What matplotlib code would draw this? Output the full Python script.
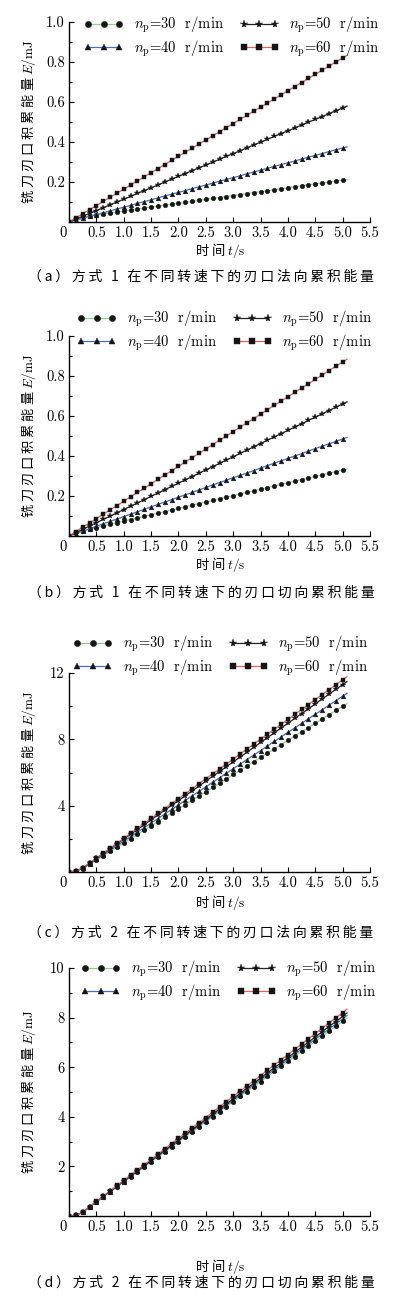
import numpy as np
import matplotlib
matplotlib.use("Agg")
import matplotlib.pyplot as plt
from matplotlib.ticker import MultipleLocator, FixedLocator, FixedFormatter
import matplotlib.transforms as mtransforms

plt.rcParams['mathtext.fontset'] = 'cm'
plt.rcParams['font.family'] = ['cmr10', 'DejaVu Sans']
plt.rcParams['axes.formatter.use_mathtext'] = True

W, H = 394, 1298
CJK = ['Noto Sans CJK SC', 'DejaVu Sans']

# tiempo: marcadores cada 0.125 s, la linea sigue hasta 5.08 s
t = list(np.arange(0, 5.001, 0.125)) + [5.08]

speeds = ['30', '40', '50', '60']

# (a) modo 1, direccion normal
a_30 = [0, .020, .025, .030, .035, .040, .045, .050, .054, .059, .064, .069, .074, .079, .084, .088, .093, .098, .103, .108, .113,
        .118, .122, .127, .132, .137, .142, .147, .152, .156, .161, .166, .171, .176, .181, .186, .190, .195, .200, .205, .210, .213]
a_40 = [0, .009, .019, .028, .037, .046, .056, .065, .074, .083, .093, .102, .111, .120, .130, .139, .148, .157, .167, .176, .185,
        .194, .204, .213, .222, .231, .241, .250, .259, .268, .278, .287, .296, .305, .315, .324, .333, .342, .352, .361, .370, .376]
a_50 = [0, .014, .029, .043, .057, .071, .086, .100, .114, .128, .143, .157, .171, .185, .200, .214, .228, .242, .257, .271, .285,
        .299, .314, .328, .342, .356, .371, .385, .399, .413, .428, .442, .456, .470, .485, .499, .513, .527, .542, .556, .570, .579]
a_60 = [0, .021, .041, .062, .082, .103, .123, .144, .164, .185, .205, .226, .246, .267, .287, .308, .328, .349, .369, .390, .410,
        .431, .451, .472, .492, .513, .533, .554, .574, .595, .615, .636, .656, .677, .697, .718, .738, .759, .779, .800, .820, .833]

# (b) modo 1, direccion tangencial
b_30 = [0, .018, .026, .034, .042, .050, .058, .066, .074, .082, .090, .098, .106, .114, .122, .130, .138, .146, .154, .162, .170,
        .178, .186, .194, .202, .210, .218, .226, .234, .242, .250, .258, .266, .274, .282, .290, .298, .306, .314, .322, .330, .335]
b_40 = [0, .012, .024, .036, .049, .061, .073, .085, .097, .109, .121, .133, .146, .158, .170, .182, .194, .206, .218, .230, .243,
        .255, .267, .279, .291, .303, .315, .327, .340, .352, .364, .376, .388, .400, .412, .424, .437, .449, .461, .473, .485, .493]
b_50 = [0, .017, .033, .050, .066, .083, .099, .116, .132, .149, .165, .182, .198, .215, .231, .248, .264, .281, .297, .314, .330,
        .347, .363, .380, .396, .413, .429, .446, .462, .479, .495, .512, .528, .545, .561, .578, .594, .611, .627, .644, .660, .671]
b_60 = [0, .022, .044, .065, .087, .109, .131, .152, .174, .196, .218, .239, .261, .283, .305, .326, .348, .370, .392, .413, .435,
        .457, .479, .500, .522, .544, .566, .587, .609, .631, .653, .674, .696, .718, .740, .761, .783, .805, .827, .848, .870, .884]

# (c) modo 2, direccion normal
c_30 = [0, .05, .21, .46, .72, .98, 1.24, 1.49, 1.75, 2.01, 2.27, 2.53, 2.78, 3.04, 3.30, 3.56, 3.81, 4.07, 4.33, 4.59, 4.85,
        5.10, 5.36, 5.62, 5.88, 6.13, 6.39, 6.65, 6.91, 7.17, 7.42, 7.68, 7.94, 8.20, 8.45, 8.71, 8.97, 9.23, 9.48, 9.74, 10.00, 10.16]
c_40 = [0, .05, .22, .49, .77, 1.04, 1.31, 1.58, 1.86, 2.13, 2.40, 2.68, 2.95, 3.22, 3.50, 3.77, 4.04, 4.32, 4.59, 4.86, 5.14,
        5.41, 5.68, 5.96, 6.23, 6.50, 6.78, 7.05, 7.32, 7.60, 7.87, 8.14, 8.42, 8.69, 8.96, 9.24, 9.51, 9.78, 10.06, 10.33, 10.60, 10.78]
c_50 = [0, .05, .24, .52, .82, 1.11, 1.40, 1.69, 1.98, 2.27, 2.56, 2.85, 3.15, 3.44, 3.73, 4.02, 4.31, 4.60, 4.89, 5.18, 5.48,
        5.77, 6.06, 6.35, 6.64, 6.93, 7.22, 7.51, 7.81, 8.10, 8.39, 8.68, 8.97, 9.26, 9.55, 9.84, 10.14, 10.43, 10.72, 11.01, 11.30, 11.49]
c_60 = [0, .05, .24, .54, .84, 1.14, 1.43, 1.73, 2.03, 2.33, 2.63, 2.93, 3.23, 3.53, 3.82, 4.12, 4.42, 4.72, 5.02, 5.32, 5.62,
        5.92, 6.21, 6.51, 6.81, 7.11, 7.41, 7.71, 8.01, 8.31, 8.60, 8.90, 9.20, 9.50, 9.80, 10.10, 10.40, 10.70, 10.99, 11.29, 11.59, 11.78]

# (d) modo 2, direccion tangencial
d_30 = [0, .03, .15, .36, .57, .77, .97, 1.17, 1.38, 1.58, 1.78, 1.98, 2.19, 2.39, 2.59, 2.79, 2.99, 3.20, 3.40, 3.60, 3.80,
        4.01, 4.21, 4.41, 4.61, 4.82, 5.02, 5.22, 5.42, 5.63, 5.83, 6.03, 6.23, 6.43, 6.64, 6.84, 7.04, 7.24, 7.45, 7.65, 7.85, 7.98]
d_40 = [0, .03, .15, .37, .57, .78, .98, 1.19, 1.39, 1.60, 1.80, 2.01, 2.21, 2.42, 2.62, 2.83, 3.03, 3.24, 3.44, 3.65, 3.85,
        4.06, 4.26, 4.47, 4.67, 4.88, 5.08, 5.29, 5.49, 5.70, 5.90, 6.11, 6.31, 6.52, 6.72, 6.92, 7.13, 7.33, 7.54, 7.74, 7.95, 8.08]
d_50 = [0, .03, .15, .37, .58, .79, 1.00, 1.20, 1.41, 1.62, 1.83, 2.03, 2.24, 2.45, 2.66, 2.86, 3.07, 3.28, 3.49, 3.69, 3.90,
        4.11, 4.32, 4.52, 4.73, 4.94, 5.15, 5.35, 5.56, 5.77, 5.98, 6.18, 6.39, 6.60, 6.81, 7.01, 7.22, 7.43, 7.64, 7.84, 8.05, 8.19]
d_60 = [0, .03, .15, .38, .59, .80, 1.01, 1.23, 1.44, 1.65, 1.86, 2.07, 2.28, 2.49, 2.71, 2.92, 3.13, 3.34, 3.55, 3.76, 3.97,
        4.19, 4.40, 4.61, 4.82, 5.03, 5.24, 5.45, 5.66, 5.88, 6.09, 6.30, 6.51, 6.72, 6.93, 7.14, 7.36, 7.57, 7.78, 7.99, 8.20, 8.34]

captions = ['（a）方式 1 在不同转速下的刃口法向累积能量',
            '（b）方式 1 在不同转速下的刃口切向累积能量',
            '（c）方式 2 在不同转速下的刃口法向累积能量',
            '（d）方式 2 在不同转速下的刃口切向累积能量']

xticks = [0, 0.5, 1.0, 1.5, 2.0, 2.5, 3.0, 3.5, 4.0, 4.5, 5.0, 5.5]
xticklabels = ['0', '0.5', '1.0', '1.5', '2.0', '2.5', '3.0', '3.5', '4.0', '4.5', '5.0', '5.5']

line_colors = ['#8fd08f', '#4a6db5', '#202020', '#e0625e']
markers = ['o', '^', '*', 's']
msizes = [3.3, 3.4, 4.2, 3.2]


def px(x, y):
    return x / W, 1 - y / H


def spaced(s, sep='\u2009'):
    return sep.join(s)


# (datos, top px, bottom px, ymax, paso etiquetas, paso minor, leyenda x, leyenda y, caption y, xlabel y)
panels = [
    ([a_30, a_40, a_50, a_60], 22, 222, 1.0, 0.2, 0.1, 84, 23, 277, 251, '%.1f'),
    ([b_30, b_40, b_50, b_60], 336, 536, 1.0, 0.2, 0.1, 77, 317, 593, 565, '%.1f'),
    ([c_30, c_40, c_50, c_60], 673, 872, 12, 4, 2, 73, 642, 933, 902, '%d'),
    ([d_30, d_40, d_50, d_60], 968, 1216, 10, 2, 1, 81, 967, 1283, 1267, '%d'),
]

fig = plt.figure(figsize=(W / 100, H / 100), dpi=100)

for k, (series, top, bot, ymax, ystep, yminor, lx, ly, cy, xly, fmt) in enumerate(panels):
    ax = fig.add_axes([69 / W, 1 - bot / H, 301 / W, (bot - top) / H])
    for j in range(4):
        ax.plot(t, series[j], color=line_colors[j], lw=0.9, marker=markers[j], ms=msizes[j], mew=0.3,
                mfc='#151515', mec='#151515', markevery=slice(0, 41),
                label=r'$n_\mathrm{p}$=' + speeds[j] + '  r/min')
    ax.set_xlim(0, 5.5)
    ax.set_ylim(0, ymax)
    for s in ['top', 'right']:
        ax.spines[s].set_visible(False)
    for s in ['left', 'bottom']:
        ax.spines[s].set_linewidth(1.0)
    ax.xaxis.set_major_locator(FixedLocator(xticks))
    ax.xaxis.set_major_formatter(FixedFormatter(xticklabels))
    yt = list(np.arange(ystep, ymax + 1e-9, ystep))
    ax.yaxis.set_major_locator(FixedLocator(yt))
    ax.yaxis.set_major_formatter(FixedFormatter([fmt % v for v in yt]))
    ax.yaxis.set_minor_locator(MultipleLocator(yminor))
    ax.tick_params(direction='in', length=3.5, width=0.8, labelsize=10.5, pad=3)
    ax.tick_params(which='minor', direction='in', length=2, width=0.8)
    # el "0" del eje x va un poco a la izquierda
    fig.canvas.draw()
    lab0 = ax.get_xticklabels()[0]
    lab0.set_transform(lab0.get_transform() + mtransforms.ScaledTranslation(-6 / 100, 0, fig.dpi_scale_trans))

    ax.legend(loc='upper left', bbox_to_anchor=px(lx, ly - 8), bbox_transform=fig.transFigure,
              ncol=2, frameon=False, fontsize=10.5, numpoints=3, handlelength=2.7, handletextpad=0.7,
              columnspacing=1.1, labelspacing=0.2, borderpad=0, borderaxespad=0, markerscale=1.35)

    fig.text(*px(28, (top + bot) / 2), spaced('铣刀刃口积累能量', ' ') + r' $E/\mathrm{mJ}$', rotation=90,
             ha='center', va='center', fontsize=9.5, family=CJK)
    fig.text(*px(220, xly), spaced('时间', ' ') + r' $t/\mathrm{s}$', ha='center', va='center', fontsize=9.5, family=CJK)
    fig.text(*px(201, cy), spaced(captions[k]), ha='center', va='center', fontsize=10, family=CJK)

fig.savefig('out.png', dpi=100)
